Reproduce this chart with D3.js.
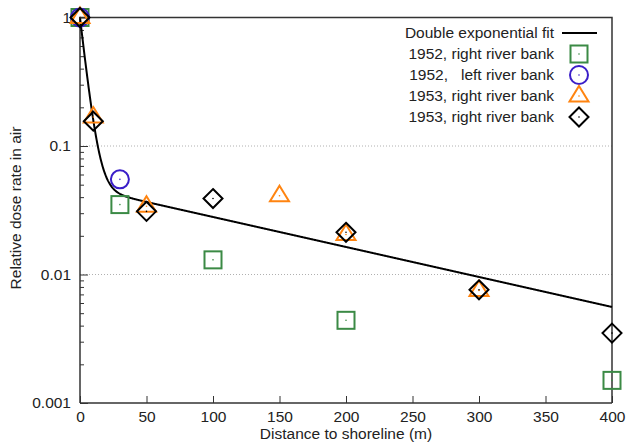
<!DOCTYPE html>
<html><head><meta charset="utf-8">
<script src="https://cdn.jsdelivr.net/npm/d3@7"></script>
<style>
body{margin:0;background:#fff;}
text{font-family:"Liberation Sans",Arial,Helvetica,sans-serif;}
</style></head>
<body><svg id="c" width="627" height="446"></svg>
<script>
// ---- data ----
const sq1952Right_x = [0, 30, 100, 200, 400];
const sq1952Right_y = [1, 0.035, 0.013, 0.0044, 0.0015];
const circ1952Left_x = [0, 30];
const circ1952Left_y = [1, 0.055];
const tri1953Right_x = [0, 10, 50, 150, 200, 300];
const tri1953Right_y = [1, 0.168, 0.034, 0.041, 0.0205, 0.0075];
const dia1953Right_x = [0, 10, 50, 100, 200, 300, 400];
const dia1953Right_y = [1, 0.156, 0.031, 0.039, 0.0213, 0.0076, 0.0035];
// double exponential fit parameters: y = A*exp(-x/B) + C*exp(-x/D)
const fitA = 0.952, fitB = 4.7, fitC = 0.048, fitD = 186;
const xTicks = [0, 50, 100, 150, 200, 250, 300, 350, 400];
const yTicks = [1, 0.1, 0.01, 0.001];
const yTickLabels = ["1", "0.1", "0.01", "0.001"];
const legendLabels = ["Double exponential fit", "1952, right river bank", "1952,   left river bank", "1953, right river bank", "1953, right river bank"];

const pLeft = 80, pRight = 612, pTop = 17.5, pBottom = 403;
const FS = 15.5;
const svg = d3.select("#c");
const x = d3.scaleLinear().domain([0, 400]).range([pLeft, pRight]);
const y = d3.scaleLog().domain([0.001, 1]).range([pBottom, pTop]);

// grid
svg.append("g").selectAll("line").data([0.1, 0.01]).join("line")
  .attr("x1", pLeft).attr("x2", pRight).attr("y1", d => y(d)).attr("y2", d => y(d))
  .attr("stroke", "#b0b0b0").attr("stroke-width", 1).attr("stroke-dasharray", "1,2");

// axes (ticks inward)
const xAxis = d3.axisBottom(x).tickValues(xTicks).tickSize(-7).tickPadding(8).tickFormat(d3.format("d"));
const gx = svg.append("g").attr("transform", `translate(0,${pBottom})`).call(xAxis);
const minor = [];
[0.001, 0.01, 0.1].forEach(b => { for (let k = 2; k <= 9; k++) minor.push(b * k); });
const yAxis = d3.axisLeft(y).tickValues(yTicks).tickSize(-8).tickPadding(9).tickFormat((d, i) => yTickLabels[i]);
const gy = svg.append("g").attr("transform", `translate(${pLeft},0)`).call(yAxis);
const yMinor = d3.axisLeft(y).tickValues(minor).tickSize(-4).tickFormat("");
const gym = svg.append("g").attr("transform", `translate(${pLeft},0)`).call(yMinor);
gym.select(".domain").remove();
[gx, gy, gym].forEach(g => {
  g.selectAll("text").attr("font-size", FS).attr("fill", "#222");
  g.selectAll("line").attr("stroke", "#333").attr("stroke-width", 1);
  g.select(".domain").attr("stroke", "#333").attr("stroke-width", 1.5);
});
gx.select(".domain").attr("d", `M${pLeft},0H${pRight}`);
gy.select(".domain").attr("d", `M0,${pBottom}V${pTop}`);
// top and right frame
svg.append("path").attr("d", `M${pLeft},${pTop}H${pRight}V${pBottom}`)
  .attr("fill", "none").attr("stroke", "#333").attr("stroke-width", 1.5);

// fit curve
const fitPts = d3.range(0, 400.5, 0.5).map(v => [v, fitA * Math.exp(-v / fitB) + fitC * Math.exp(-v / fitD)]);
svg.append("path").datum(fitPts)
  .attr("d", d3.line().x(d => x(d[0])).y(d => y(d[1])))
  .attr("fill", "none").attr("stroke", "#000").attr("stroke-width", 2);

// markers
const colGreen = "#3b8a45", colBlue = "#3a1ec8", colOrange = "#ff8410", colBlack = "#000";
function marker(g, type, color) {
  if (type === "sq") g.append("rect").attr("x", -8.5).attr("y", -8.5).attr("width", 17).attr("height", 17);
  else if (type === "circ") g.append("circle").attr("r", 9);
  else if (type === "tri") g.append("path").attr("d", "M0,-10L9.5,5.5L-9.5,5.5Z");
  else g.append("path").attr("d", "M0,-9.5L9.5,0L0,9.5L-9.5,0Z");
  g.selectAll("rect,circle,path").attr("fill", "none").attr("stroke", color).attr("stroke-width", 2);
  g.append("circle").attr("r", 0.8).attr("fill", color);
}
const series = [
  {xs: sq1952Right_x, ys: sq1952Right_y, t: "sq", c: colGreen},
  {xs: circ1952Left_x, ys: circ1952Left_y, t: "circ", c: colBlue},
  {xs: tri1953Right_x, ys: tri1953Right_y, t: "tri", c: colOrange},
  {xs: dia1953Right_x, ys: dia1953Right_y, t: "dia", c: colBlack}
];
series.forEach(s => {
  s.xs.forEach((xv, i) => {
    const g = svg.append("g").attr("transform", `translate(${x(xv)},${y(s.ys[i])})`);
    marker(g, s.t, s.c);
  });
});

// legend
const legY = [33, 54, 75, 96, 117];
legendLabels.forEach((lab, i) => {
  svg.append("text").attr("x", 554).attr("y", legY[i]).attr("dy", "0.35em")
    .attr("text-anchor", "end").attr("font-size", FS).attr("fill", "#222")
    .style("white-space", "pre").text(lab);
  if (i === 0) {
    svg.append("line").attr("x1", 562).attr("x2", 597).attr("y1", legY[i]).attr("y2", legY[i])
      .attr("stroke", "#000").attr("stroke-width", 2);
  } else {
    const s = series[i - 1];
    const g = svg.append("g").attr("transform", `translate(579,${legY[i]})`);
    marker(g, s.t, s.c);
  }
});

// axis titles
svg.append("text").attr("x", 346).attr("y", 439).attr("text-anchor", "middle")
  .attr("font-size", FS).attr("fill", "#222").text("Distance to shoreline (m)");
svg.append("text").attr("transform", "translate(21,208) rotate(-90)").attr("text-anchor", "middle")
  .attr("font-size", FS).attr("fill", "#222").text("Relative dose rate in air");
</script></body></html>
